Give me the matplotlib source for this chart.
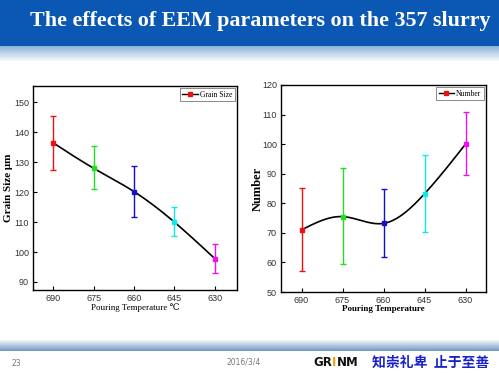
import numpy as np
import matplotlib.pyplot as plt
from matplotlib.lines import Line2D

# data
temps = ['690', '675', '660', '645', '630']
colors = ['#ee1111', '#22dd22', '#1111cc', '#11e8e8', '#ee11ee']

grain = [136.5, 128.0, 120.2, 110.0, 97.8]
grain_lo = [127.5, 121.0, 111.8, 105.2, 93.0]
grain_hi = [145.5, 135.5, 128.7, 115.0, 102.7]

number = [71.0, 75.5, 73.2, 83.2, 100.0]
number_lo = [57.0, 59.5, 61.8, 70.2, 89.5]
number_hi = [85.2, 91.8, 84.7, 96.3, 110.8]

W, H = 499, 374
fig = plt.figure(figsize=(W / 100, H / 100), dpi=100)
fig.patch.set_facecolor('white')


def px(x0, y0, x1, y1):
    # pixel box (top-left origin) -> figure rect
    return [x0 / W, 1 - y1 / H, (x1 - x0) / W, (y1 - y0) / H]


def natural_spline(x, y, xs):
    x = np.asarray(x, float)
    y = np.asarray(y, float)
    n = len(x)
    h = np.diff(x)
    A = np.zeros((n, n))
    b = np.zeros(n)
    A[0, 0] = A[-1, -1] = 1
    for i in range(1, n - 1):
        A[i, i - 1] = h[i - 1]
        A[i, i] = 2 * (h[i - 1] + h[i])
        A[i, i + 1] = h[i]
        b[i] = 6 * ((y[i + 1] - y[i]) / h[i] - (y[i] - y[i - 1]) / h[i - 1])
    m = np.linalg.solve(A, b)
    k = np.clip(np.searchsorted(x, xs) - 1, 0, n - 2)
    t0 = x[k + 1] - xs
    t1 = xs - x[k]
    hk = h[k]
    return (m[k] * t0 ** 3 / (6 * hk) + m[k + 1] * t1 ** 3 / (6 * hk)
            + (y[k] / hk - m[k] * hk / 6) * t0 + (y[k + 1] / hk - m[k + 1] * hk / 6) * t1)


# title bar
bar = fig.add_axes(px(0, 0, W, 46))
bar.set_axis_off()
bar.add_patch(plt.Rectangle((0, 0), 1, 1, color='#0a58b4', transform=bar.transAxes))
fade = fig.add_axes(px(0, 46, W, 62))
fade.set_axis_off()
g = np.linspace(0, 1, 50)[:, None]
top = np.array([0.55, 0.70, 0.86])
rgb = top[None, None, :] * (1 - g[..., None]) + np.array([1, 1, 1])[None, None, :] * g[..., None]
fade.imshow(np.repeat(rgb, 10, axis=1), aspect='auto')
fig.text(260 / W, 1 - 21 / H, 'The effects of EEM parameters on the 357 slurry',
         family='Liberation Serif', weight='bold', fontsize=15.8, color='white',
         ha='center', va='center')

# footer band
foot = fig.add_axes(px(0, 340, W, 351))
foot.set_axis_off()
g2 = np.linspace(0, 1, 40)[:, None]
bot = np.array([0.45, 0.60, 0.76])
rgb2 = np.array([1, 1, 1])[None, None, :] * (1 - g2[..., None]) + bot[None, None, :] * g2[..., None]
foot.imshow(np.repeat(rgb2, 10, axis=1), aspect='auto')
fig.text(11 / W, 1 - 364 / H, '23', fontsize=5.5, color='#777777', va='center')
fig.text(244 / W, 1 - 362 / H, '2016/3/4', fontsize=5.5, color='#777777', va='center', ha='center')
fig.text(313 / W, 1 - 363 / H, 'GR', fontsize=8.5, weight='bold', color='#111111', va='center',
         family='DejaVu Sans')
fig.text(332 / W, 1 - 363 / H, 'I', fontsize=8.5, weight='bold', color='#f0a000', va='center',
         family='DejaVu Sans')
fig.text(337 / W, 1 - 363 / H, 'NM', fontsize=8.5, weight='bold', color='#111111', va='center',
         family='DejaVu Sans')
fig.text(372 / W, 1 - 363 / H, '知崇礼卑  止于至善', fontsize=10, weight='bold', color='#1a22cc',
         va='center', family=['Noto Sans CJK SC', 'DejaVu Sans'])

tick_font = ['Liberation Sans Narrow', 'Liberation Sans', 'DejaVu Sans']
serif = ['Liberation Serif', 'DejaVu Serif', 'DejaVu Sans']


def panel(rect, vals, lo, hi, ylim, yticks, xlim, xlabel, ylabel, xbold, ysize, ypad, label):
    ax = fig.add_axes(rect)
    x = np.arange(len(vals))
    # smooth line through the points
    xs = np.linspace(0, len(vals) - 1, 200)
    ax.plot(xs, natural_spline(x, vals, xs), color='black', lw=1.2, zorder=2)
    for i in range(len(vals)):
        ax.errorbar(x[i], vals[i], yerr=[[vals[i] - lo[i]], [hi[i] - vals[i]]],
                    fmt='s', color=colors[i], ms=3.5, capsize=2, elinewidth=1,
                    capthick=1, zorder=3)
    ax.set_xlim(*xlim)
    ax.set_ylim(*ylim)
    ax.set_xticks(x)
    ax.set_xticklabels(temps)
    ax.set_yticks(yticks)
    ax.tick_params(direction='in', length=3, width=0.8, labelsize=6.5, labelcolor='#333333',
                   top=False, right=False, pad=3)
    for lab in ax.get_xticklabels() + ax.get_yticklabels():
        lab.set_family(tick_font)
    for s in ax.spines.values():
        s.set_linewidth(1.0)
    ax.set_xlabel(xlabel, family=serif, fontsize=6.5,
                  weight='bold' if xbold else 'normal', labelpad=0)
    ax.set_ylabel(ylabel, family=serif, fontsize=ysize, weight='bold', labelpad=ypad)
    h = Line2D([], [], color='black', marker='s', mfc='#ee1111', mec='#ee1111', ms=3.5, lw=1)
    leg = ax.legend([h], [label], loc='upper right', frameon=True, fancybox=False,
                    borderpad=0.3, handlelength=2, handletextpad=0.3, borderaxespad=0.3,
                    prop={'family': serif, 'size': 5.5})
    leg.get_frame().set_edgecolor('#555555')
    leg.get_frame().set_linewidth(0.6)
    return ax


panel(px(33, 86, 237, 290), grain, grain_lo, grain_hi, (87.3, 155.5),
      [90, 100, 110, 120, 130, 140, 150], (-0.5, 4.55),
      'Pouring Temperature \u2103', 'Grain Size \u03bcm', False, 8, 0.5, 'Grain Size')
panel(px(281, 85, 486, 292), number, number_lo, number_hi, (50, 120),
      [50, 60, 70, 80, 90, 100, 110, 120], (-0.5, 4.5),
      'Pouring Temperature', 'Number', True, 9, -1.5, 'Number')

plt.savefig('out.png', dpi=100)
